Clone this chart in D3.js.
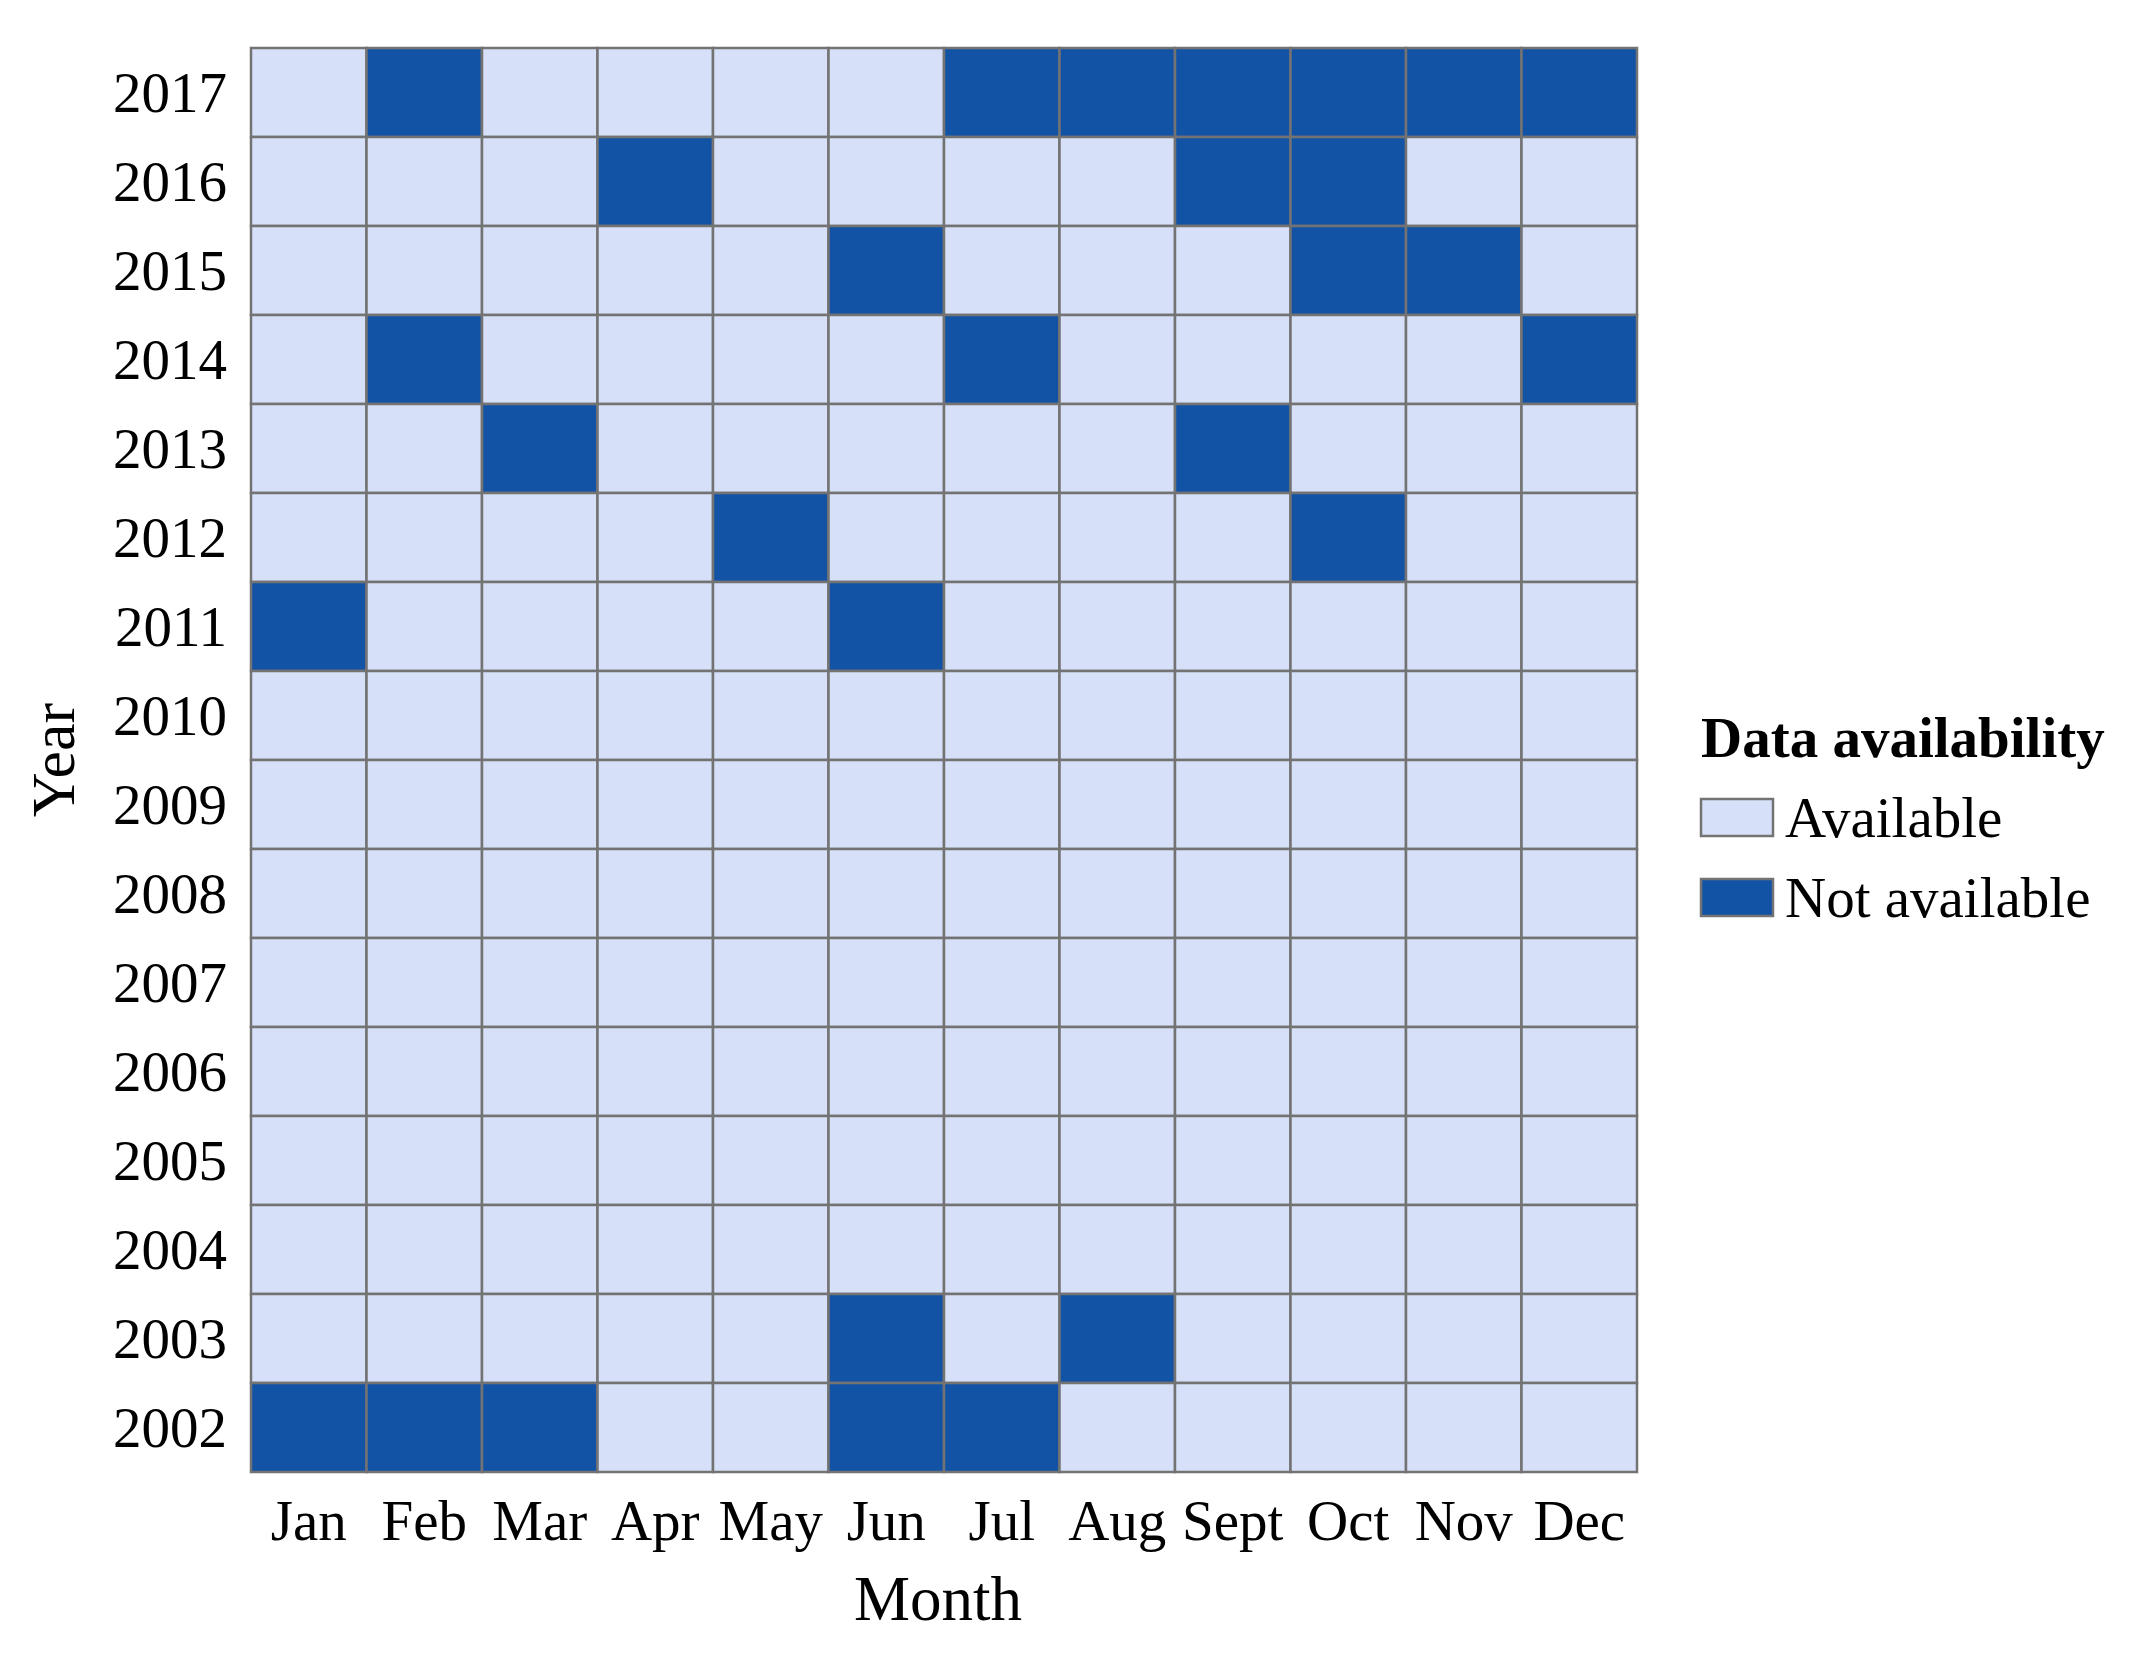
<!DOCTYPE html>
<html>
<head>
<meta charset="utf-8">
<script src="https://cdn.jsdelivr.net/npm/d3@7"></script>
<style>
  body { margin: 0; background: #fff; }
  text { font-family: "Liberation Serif", "Times New Roman", serif; fill: #000; }
</style>
</head>
<body>
<svg id="chart"></svg>
<script>
const months = ["Jan", "Feb", "Mar", "Apr", "May", "Jun", "Jul", "Aug", "Sept", "Oct", "Nov", "Dec"];
const years = [2017, 2016, 2015, 2014, 2013, 2012, 2011, 2010, 2009, 2008, 2007, 2006, 2005, 2004, 2003, 2002];

// months with no data, per year
const missing2017 = ["Feb", "Jul", "Aug", "Sept", "Oct", "Nov", "Dec"];
const missing2016 = ["Apr", "Sept", "Oct"];
const missing2015 = ["Jun", "Oct", "Nov"];
const missing2014 = ["Feb", "Jul", "Dec"];
const missing2013 = ["Mar", "Sept"];
const missing2012 = ["May", "Oct"];
const missing2011 = ["Jan", "Jun"];
const missing2003 = ["Jun", "Aug"];
const missing2002 = ["Jan", "Feb", "Mar", "Jun", "Jul"];

const statusLabels = ["Available", "Not available"];

const missing = {
  2017: missing2017, 2016: missing2016, 2015: missing2015, 2014: missing2014,
  2013: missing2013, 2012: missing2012, 2011: missing2011,
  2003: missing2003, 2002: missing2002
};

const cells = [];
years.forEach(y => {
  months.forEach(m => {
    const gone = (missing[y] || []).includes(m);
    cells.push({ year: y, month: m, status: gone ? "Not available" : "Available" });
  });
});

const width = 2132;
const height = 1664;
const margin = { left: 251, top: 48, right: 495, bottom: 192 };

const svg = d3.select("#chart").attr("width", width).attr("height", height);

const x = d3.scaleBand().domain(months).range([margin.left, width - margin.right]);
const y = d3.scaleBand().domain(years).range([margin.top, height - margin.bottom]);
const color = d3.scaleOrdinal().domain(statusLabels).range(["#d6e1f9", "#1353a6"]);

svg.append("g")
  .selectAll("rect")
  .data(cells)
  .enter()
  .append("rect")
  .attr("x", d => x(d.month))
  .attr("y", d => y(d.year))
  .attr("width", x.bandwidth())
  .attr("height", y.bandwidth())
  .style("fill", d => color(d.status))
  .style("stroke", "#737373")
  .style("stroke-width", 2.5);

// axes (no lines, just labels)
const xAxis = svg.append("g")
  .attr("transform", `translate(0, ${height - margin.bottom})`)
  .call(d3.axisBottom(x).tickSize(0).tickPadding(0));
xAxis.select(".domain").remove();
xAxis.selectAll("text")
  .attr("y", 68)
  .attr("dy", 0)
  .style("font-size", "57px")
  .style("font-family", "Liberation Serif");

const yAxis = svg.append("g")
  .attr("transform", `translate(${margin.left}, 0)`)
  .call(d3.axisLeft(y).tickSize(0).tickPadding(24));
yAxis.select(".domain").remove();
yAxis.selectAll("text")
  .attr("dy", "0.35em")
  .style("font-size", "57px")
  .style("font-family", "Liberation Serif");

svg.append("text")
  .attr("x", 938)
  .attr("y", 1620)
  .attr("text-anchor", "middle")
  .style("font-size", "63px")
  .text("Month");

svg.append("text")
  .attr("transform", `translate(74, ${(margin.top + height - margin.bottom) / 2}) rotate(-90)`)
  .attr("text-anchor", "middle")
  .style("font-size", "62px")
  .text("Year");

// legend
const legend = svg.append("g").attr("transform", "translate(1701, 0)");
legend.append("text")
  .attr("x", 0)
  .attr("y", 757)
  .style("font-size", "57px")
  .style("font-weight", "bold")
  .text("Data availability");

const item = legend.selectAll(".item")
  .data(statusLabels)
  .enter()
  .append("g")
  .attr("class", "item")
  .attr("transform", (d, i) => `translate(0, ${799 + i * 80})`);

item.append("rect")
  .attr("width", 72)
  .attr("height", 37)
  .style("fill", d => color(d))
  .style("stroke", "#737373")
  .style("stroke-width", 2.5);

item.append("text")
  .attr("x", 84)
  .attr("y", 38)
  .style("font-size", "57px")
  .text(d => d);
</script>
</body>
</html>
